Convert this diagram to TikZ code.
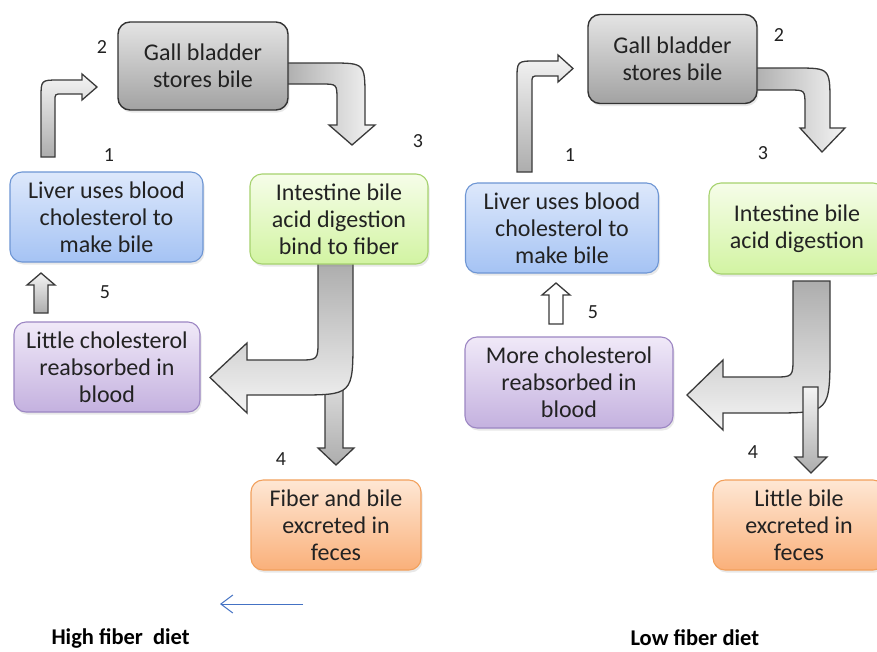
\documentclass[tikz,border=0pt]{standalone}
\usepackage{fontspec}
\setmainfont{Carlito}
\usetikzlibrary{arrows.meta,shadows}
\definecolor{gbTop}{HTML}{E4E4E4}\definecolor{gbBot}{HTML}{A2A2A2}\definecolor{gbLine}{HTML}{333333}
\definecolor{blTop}{HTML}{DDE8FB}\definecolor{blBot}{HTML}{A5C3F4}\definecolor{blLine}{HTML}{6E96D4}
\definecolor{grTop}{HTML}{F6FDE9}\definecolor{grBot}{HTML}{D2F4A2}\definecolor{grLine}{HTML}{A6D26E}
\definecolor{puTop}{HTML}{F0E9F8}\definecolor{puBot}{HTML}{C4B1DF}\definecolor{puLine}{HTML}{9C86C3}
\definecolor{orTop}{HTML}{FEE7D4}\definecolor{orBot}{HTML}{FAB07A}\definecolor{orLine}{HTML}{F2A05C}
\definecolor{arLine}{HTML}{3A3A3A}\definecolor{arDark}{HTML}{ADADAD}\definecolor{arLight}{HTML}{F4F4F4}
\definecolor{txt}{HTML}{222222}\definecolor{bluearr}{HTML}{4472C4}
\tikzset{
  box/.style={rectangle, rounded corners=12pt, line width=1.1pt, align=center,
     font=\fontsize{24}{27}\selectfont, text=txt, inner sep=2pt,
     drop shadow={opacity=0.18, shadow xshift=1.5pt, shadow yshift=-2.5pt}},
  gbox/.style={box, draw=gbLine, top color=gbTop, bottom color=gbBot, line width=1.4pt},
  bbox/.style={box, draw=blLine, top color=blTop, bottom color=blBot},
  grbox/.style={box, draw=grLine, top color=grTop, bottom color=grBot},
  pbox/.style={box, draw=puLine, top color=puTop, bottom color=puBot},
  obox/.style={box, draw=orLine, top color=orTop, bottom color=orBot},
  blockarr/.style={draw=arLine, line width=1.3pt, line join=miter},
  num/.style={font=\fontsize{20}{22}\selectfont, text=txt},
  caption/.style={font=\fontsize{22.5}{26}\selectfont\bfseries, text=black},
}
\begin{document}
\begin{tikzpicture}[x=1pt,y=-1pt]
\clip (0,0) rectangle (877,651);
\fill[white] (0,0) rectangle (877,651);

% ---------------- LEFT PANEL ----------------
\path[blockarr, bottom color=arDark, top color=arLight]
  (41,157) -- (41,98) .. controls (41,80) .. (59,80) -- (82,80) -- (82,74) -- (97,87)
  -- (82,100) -- (82,94) -- (62,94) .. controls (55,94) .. (55,101) -- (55,157) -- cycle;
\path[blockarr, left color=arDark, right color=arLight]
  (284,63) -- (330,63) .. controls (365,63) .. (365,98) -- (365,125) -- (375,125) -- (352,145)
  -- (329,125) -- (337,125) -- (337,100) .. controls (337,84) .. (321,84) -- (284,84) -- cycle;
\path[blockarr, top color=arLight!80!arDark, bottom color=arDark]
  (325,366) -- (343,366) -- (343,448) -- (354,448) -- (336,465) -- (318,448) -- (325,448) -- cycle;
\path[blockarr, top color=arDark, bottom color=arLight]
  (318,263) -- (353,263) -- (353,338) .. controls (353,395) .. (296,395) -- (247,395) -- (247,413)
  -- (210,377.5) -- (247,343) -- (247,360) -- (298,360) .. controls (318,360) .. (318,340) -- cycle;
\path[blockarr, top color=arLight, bottom color=arDark]
  (34,313) -- (34,285) -- (27,285) -- (41,273) -- (55,285) -- (48,285) -- (48,313) -- cycle;

\node[gbox, minimum width=170pt, minimum height=88pt] (gb1) at (203,66) {Gall bladder\\stores bile};
\node[bbox, minimum width=193pt, minimum height=90pt] (liv1) at (106.5,217) {Liver uses blood\\cholesterol to\\make bile};
\node[grbox, minimum width=178pt, minimum height=90pt] (int1) at (339,219) {Intestine bile\\acid digestion\\bind to fiber};
\node[pbox, minimum width=186pt, minimum height=90pt] (lit1) at (107,367) {Little cholesterol\\reabsorbed in\\blood};
\node[obox, minimum width=170pt, minimum height=90pt] (fib1) at (336,525) {Fiber and bile\\excreted in\\feces};

\node[num] (n1a) at (109,155) {1};
\node[num] (n2a) at (102,47) {2};
\node[num] (n3a) at (418,141) {3};
\node[num] (n4a) at (281,459) {4};
\node[num] (n5a) at (105,292) {5};

\coordinate (bs) at (303,604);
\coordinate (be) at (220,604);
\draw[bluearr, line width=1pt, -{Straight Barb[length=12pt,width=18pt,line width=1pt]}] (bs) -- (be);

\node[caption, anchor=west] (cap1) at (48,638) {High fiber\ \ diet};

% ---------------- RIGHT PANEL ----------------
\path[blockarr, bottom color=arDark, top color=arLight]
  (517,172) -- (517,80) .. controls (517,61) .. (536,61) -- (558,61) -- (558,55) -- (573,68.5)
  -- (558,82) -- (558,76) -- (539,76) .. controls (532,76) .. (532,83) -- (532,172) -- cycle;
\path[blockarr, left color=arDark, right color=arLight]
  (752,68) -- (795,68) .. controls (830,68) .. (830,103) -- (830,128) -- (845,128) -- (822,152)
  -- (800,128) -- (805,128) -- (805,106) .. controls (805,90) .. (789,90) -- (752,90) -- cycle;
\path[blockarr, top color=arDark, bottom color=arLight]
  (793,281) -- (830,281) -- (830,350) .. controls (830,413) .. (770,413) -- (723,413) -- (723,430)
  -- (687,395) -- (723,360) -- (723,377) -- (773,377) .. controls (793,377) .. (793,357) -- cycle;
\path[blockarr, top color=arLight, bottom color=arDark]
  (803,387) -- (818,387) -- (818,457) -- (827,457) -- (811,473) -- (795,457) -- (803,457) -- cycle;
\path[blockarr, fill=white]
  (549,324) -- (549,295) -- (542,295) -- (556,283) -- (570,295) -- (563,295) -- (563,324) -- cycle;

\node[gbox, minimum width=169pt, minimum height=89pt] (gb2) at (672.5,59) {Gall bladder\\stores bile};
\node[bbox, minimum width=193pt, minimum height=90pt] (liv2) at (562,228) {Liver uses blood\\cholesterol to\\make bile};
\node[grbox, minimum width=176pt, minimum height=91pt] (int2) at (797,228.5) {Intestine bile\\acid digestion};
\node[pbox, minimum width=208pt, minimum height=91pt] (more2) at (569,382.5) {More cholesterol\\reabsorbed in\\blood};
\node[obox, minimum width=172pt, minimum height=90pt] (litb2) at (799,525) {Little bile\\excreted in\\feces};

\node[num] (n1b) at (570,155) {1};
\node[num] (n2b) at (779,35) {2};
\node[num] (n3b) at (763,153) {3};
\node[num] (n4b) at (753,452) {4};
\node[num] (n5b) at (593,312) {5};

\node[caption, anchor=west] (cap2) at (627,638) {Low fiber diet};
\end{tikzpicture}
\end{document}
